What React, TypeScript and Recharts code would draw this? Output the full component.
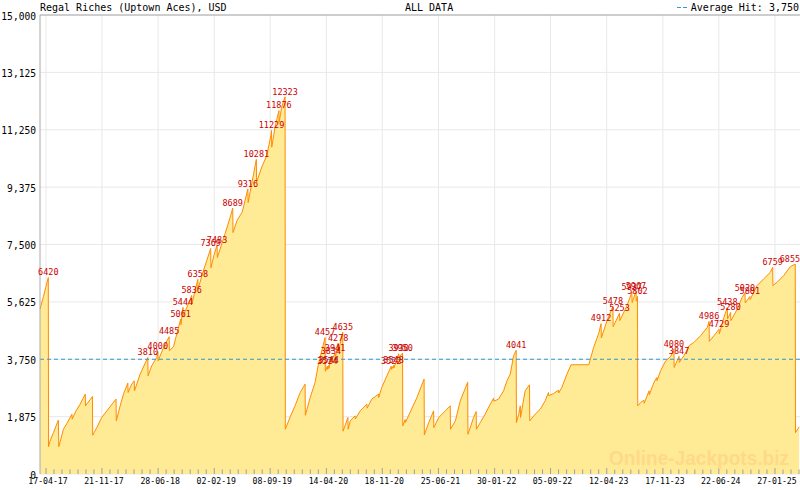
import { Area, AreaChart, CartesianGrid, ReferenceLine, XAxis, YAxis } from 'recharts';

const TITLE = 'Regal Riches (Uptown Aces), USD';
const PERIOD = 'ALL DATA';
const WATERMARK = 'Online-Jackpots.biz';
const AVERAGE_HIT = 3750;
// hits at or above this get their amount written over the peak
const HIT_LABEL_MIN = 3500;

const TICK_DATES = [
  '17-04-17', '21-11-17', '28-06-18', '02-02-19', '08-09-19', '14-04-20', '18-11-20',
  '25-06-21', '30-01-22', '05-09-22', '12-04-23', '17-11-23', '22-06-24', '27-01-25',
];
const Y_TICKS = [0, 1875, 3750, 5625, 7500, 9375, 11250, 13125, 15000];

// [days since 17-04-17, jackpot in USD]
const RUN_2017_2019: [number, number][] = [
  [-23, 5393], [-10, 5800], [0, 6130], [9, 6420], [10, 894],
  [16, 1080], [29, 1353], [48, 1758], [50, 894],
  [68, 1464], [81, 1648], [101, 1955], [102, 1791], [117, 2063], [133, 2282], [153, 2610],
  [154, 2227], [181, 2532], [182, 1267],
  [198, 1517], [217, 1845], [237, 2063], [273, 2446], [274, 1736],
  [289, 2227], [302, 2610], [319, 2970], [320, 2663], [334, 2937], [344, 3046], [345, 2718],
  [367, 3265], [397, 3810], [398, 3210], [412, 3537], [432, 3810], [436, 4000], [437, 3700],
  [458, 4130], [480, 4485], [481, 4030], [497, 4160], [510, 4580], [525, 5061], [526, 4880],
  [534, 5444], [535, 5180], [551, 5480], [568, 5836], [569, 5560], [580, 5950], [592, 6358],
  [593, 6050], [612, 6600], [642, 7369], [643, 6740], [655, 7150], [667, 7483], [668, 7070],
  [698, 7850], [718, 8390], [728, 8689], [729, 7890], [745, 8290], [765, 8560], [787, 9316],
  [788, 8870], [802, 9490], [820, 10281], [821, 9530], [841, 10030], [861, 10415],
  [877, 11070], [879, 11229], [880, 10680], [893, 11340], [908, 11876], [909, 11500],
  [919, 12000], [932, 12323], [933, 1464],
];

const RUN_2019_2020: [number, number][] = [
  [952, 1867], [971, 2227], [991, 2663], [1010, 2937], [1011, 1920],
  [1030, 2499], [1049, 2990], [1062, 3590], [1088, 4457], [1089, 3357], [1097, 3524],
  [1098, 3420], [1102, 3544], [1103, 3450], [1111, 3834], [1112, 3700], [1127, 3941],
  [1128, 3800], [1139, 4278], [1140, 4000], [1157, 4635], [1158, 1400],
  [1177, 1845], [1178, 1464], [1186, 1736], [1205, 1900], [1206, 1800], [1225, 2063],
  [1251, 2282], [1252, 2150], [1270, 2446], [1296, 2610], [1297, 2500], [1309, 2827],
  [1329, 3210], [1346, 3522], [1347, 3420], [1355, 3548], [1356, 3460], [1375, 3930],
  [1376, 3820], [1390, 3950], [1391, 1572],
];

const RUN_2020_2023: [number, number][] = [
  [1400, 1780], [1401, 1680], [1446, 2499], [1474, 3101], [1475, 1277],
  [1492, 1680], [1511, 2063], [1512, 1516], [1531, 1845], [1544, 1955], [1563, 2119],
  [1576, 2227], [1577, 1464], [1596, 1736], [1615, 2391], [1644, 3000], [1645, 1300],
  [1667, 1845], [1677, 2041], [1678, 1464], [1693, 1680], [1712, 1955], [1732, 2282],
  [1745, 2479], [1746, 2380], [1764, 2446], [1784, 2718], [1797, 3046], [1810, 3265],
  [1823, 3865], [1833, 4041], [1834, 1680],
  [1843, 1955], [1849, 2227], [1850, 1845], [1868, 2718], [1885, 2915], [1886, 1736],
  [1907, 1955], [1927, 2119], [1946, 2391], [1959, 2663], [1960, 2560], [1979, 2630],
  [1998, 2741], [1999, 2650], [2011, 2827], [2031, 3265], [2047, 3570], [2116, 3570],
  [2135, 4137], [2155, 4600], [2164, 4912], [2165, 4444],
];

const RUN_2023_2025: [number, number][] = [
  [2187, 5011], [2210, 5478], [2211, 4814], [2236, 5253], [2237, 5011], [2265, 5502],
  [2284, 5937], [2285, 5600], [2300, 5967], [2301, 5650], [2306, 5802], [2307, 2227],
  [2318, 2335], [2331, 2413], [2332, 2310], [2351, 2718], [2352, 2587], [2370, 2990],
  [2381, 3154], [2382, 3050], [2396, 3373], [2416, 3701], [2435, 3832], [2448, 4080],
  [2449, 3482], [2468, 3847], [2469, 3645],
  [2487, 3865], [2507, 4192], [2526, 4300], [2552, 4520], [2578, 4791], [2585, 4986],
  [2586, 4333], [2604, 4520], [2624, 4729], [2625, 4575], [2643, 5119], [2656, 5438],
  [2657, 5066], [2669, 5280], [2670, 5011], [2695, 5393], [2714, 5774], [2725, 5920],
  [2726, 5590], [2744, 5801], [2745, 5700], [2772, 6157], [2798, 6376], [2824, 6593],
  [2833, 6759], [2834, 6157], [2850, 6266], [2876, 6485], [2902, 6780], [2921, 6855],
  [2922, 1353], [2936, 1540],
];

const WIDTH = 800;
const HEIGHT = 490;
const PLOT_LEFT = 40;
const PLOT_TOP = 15;
const PLOT_BOTTOM = 474;
const PLOT_W = WIDTH - PLOT_LEFT;
const X_MIN = -23.4;
const X_MAX = 2939.5;

const MONO = "'DejaVu Sans Mono', monospace";
const LINE_COLOR = '#ff8c00';
const FILL_COLOR = '#ffea96';
const HIT_COLOR = '#cc0000';
const AVG_COLOR = '#3399cc';

function dayOf(label: string): number {
  const [dd, mm, yy] = label.split('-').map(Number);
  return (Date.UTC(2000 + yy, mm - 1, dd) - Date.UTC(2017, 3, 17)) / 86400000;
}

const MAJOR_DAYS = TICK_DATES.map(dayOf);
const MAJOR_LABEL = new Map(MAJOR_DAYS.map((d, i) => [d, TICK_DATES[i]]));

function buildTicks(): number[] {
  const ticks: number[] = [];
  for (let i = 0; i < MAJOR_DAYS.length - 1; i++) {
    const step = (MAJOR_DAYS[i + 1] - MAJOR_DAYS[i]) / 7;
    for (let k = 0; k < 7; k++) ticks.push(MAJOR_DAYS[i] + k * step);
  }
  const last = MAJOR_DAYS[MAJOR_DAYS.length - 1];
  const step = (last - MAJOR_DAYS[0]) / ((MAJOR_DAYS.length - 1) * 7);
  for (let d = last; d <= X_MAX; d += step) ticks.push(d);
  return ticks;
}

const X_TICKS = buildTicks();

const data = [...RUN_2017_2019, ...RUN_2019_2020, ...RUN_2020_2023, ...RUN_2023_2025].map(
  ([day, value]) => ({ day, value }),
);

const gridX = MAJOR_DAYS.map((d) => PLOT_LEFT + ((d - X_MIN) / (X_MAX - X_MIN)) * PLOT_W);

function DateTick({ x, y, payload }: any) {
  const label = MAJOR_LABEL.get(payload.value);
  return (
    <g>
      <line x1={x} x2={x} y1={y} y2={y - (label ? 6 : 4.5)} stroke="#a0a0a0" />
      {label && (
        <text x={x + 2} y={y + 9.5} textAnchor="middle" fontFamily={MONO} fontSize={8.2} fill="#000">
          {label}
        </text>
      )}
    </g>
  );
}

function AmountTick({ x, y, payload }: any) {
  return (
    <text x={x} y={y + 4.5} textAnchor="end" fontFamily={MONO} fontSize={9.6} fill="#000">
      {payload.value.toLocaleString('en-US')}
    </text>
  );
}

function renderHitLabel(props: any) {
  const { x, y, index } = props;
  const value = data[index]?.value;
  const next = data[index + 1];
  if (value == null || !next || value < HIT_LABEL_MIN || next.value >= value) return null;
  const cx = Math.max(11, Math.min(x, WIDTH - 10));
  return (
    <text
      key={`hit-${index}`}
      x={cx}
      y={y - 2.3}
      textAnchor="middle"
      fontFamily={MONO}
      fontSize={8.5}
      fill={HIT_COLOR}
    >
      {value}
    </text>
  );
}

export default function App() {
  return (
    <div style={{ position: 'relative', width: WIDTH, height: HEIGHT, background: '#fff' }}>
      <style>{'body{margin:0}'}</style>
      <AreaChart
        width={WIDTH}
        height={HEIGHT}
        data={data}
        margin={{ top: PLOT_TOP, right: 0, bottom: 0, left: 0 }}
      >
        <CartesianGrid stroke="#e8e8e8" verticalPoints={gridX} />
        <YAxis
          type="number"
          domain={[0, 15000]}
          ticks={Y_TICKS}
          width={PLOT_LEFT}
          axisLine={{ stroke: '#a8a8a8' }}
          tickLine={false}
          tickSize={0}
          tickMargin={4}
          tick={<AmountTick />}
          interval={0}
        />
        <Area
          type="linear"
          dataKey="value"
          stroke={LINE_COLOR}
          strokeWidth={1}
          fill={FILL_COLOR}
          fillOpacity={1}
          dot={false}
          activeDot={false}
          isAnimationActive={false}
          label={renderHitLabel}
        />
        <ReferenceLine y={15000} stroke="#a8a8a8" />
        <ReferenceLine y={AVERAGE_HIT} stroke={AVG_COLOR} strokeDasharray="4 3" />
        <XAxis
          dataKey="day"
          type="number"
          domain={[X_MIN, X_MAX]}
          allowDataOverflow
          ticks={X_TICKS}
          interval={0}
          height={HEIGHT - PLOT_BOTTOM}
          axisLine={false}
          tickLine={false}
          tickSize={0}
          tickMargin={0}
          tick={<DateTick />}
        />
      </AreaChart>
      <svg
        width={WIDTH}
        height={HEIGHT}
        style={{ position: 'absolute', left: 0, top: 0, pointerEvents: 'none' }}
      >
        <text x={40} y={11} fontFamily={MONO} fontSize={10} fill="#000">
          {TITLE}
        </text>
        <text x={405} y={11} fontFamily={MONO} fontSize={10} fill="#000">
          {PERIOD}
        </text>
        <line x1={677} x2={688} y1={7.5} y2={7.5} stroke={AVG_COLOR} strokeDasharray="4 2" />
        <text x={799} y={11} textAnchor="end" fontFamily={MONO} fontSize={10} fill="#000">
          {`Average Hit: ${AVERAGE_HIT.toLocaleString('en-US')}`}
        </text>
        <text
          x={609}
          y={465}
          textLength={180}
          lengthAdjust="spacingAndGlyphs"
          fontFamily="'Liberation Sans', Arial, sans-serif"
          fontWeight="bold"
          fontSize={20}
          fill="#ffd98a"
        >
          {WATERMARK}
        </text>
      </svg>
    </div>
  );
}
